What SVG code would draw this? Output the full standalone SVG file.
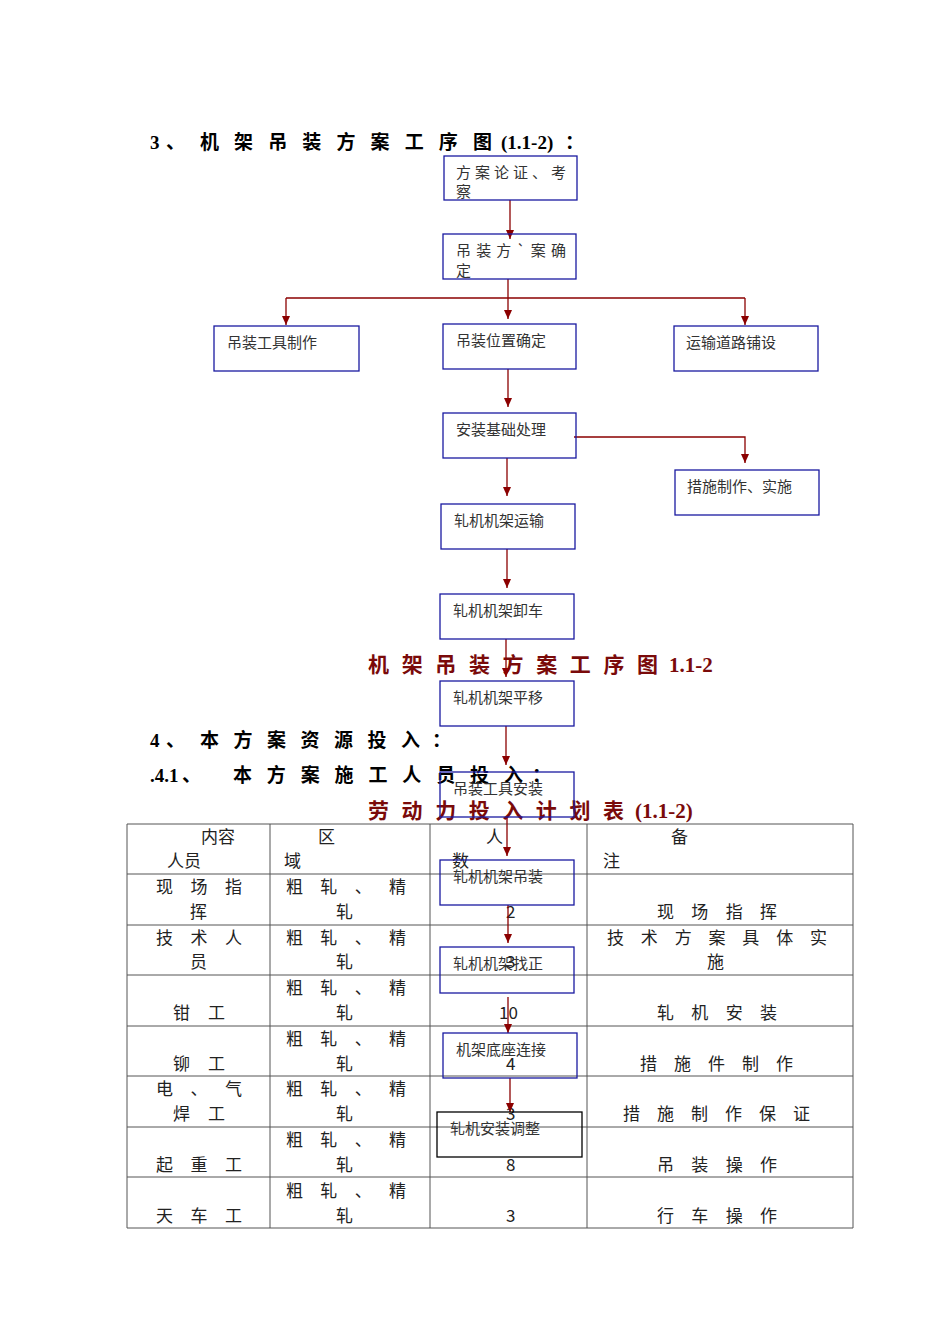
<svg xmlns="http://www.w3.org/2000/svg" width="950" height="1344" viewBox="0 0 950 1344">
<style>
.h{font-family:"Liberation Serif","Noto Sans CJK SC",serif;font-weight:bold;font-size:19px;fill:#000}
.r{font-family:"Liberation Serif","Noto Sans CJK SC",serif;font-weight:bold;font-size:21px;fill:#7a0a0a}
.n rect{fill:none;stroke:#1a1aa0;stroke-width:1.3}
.n text,.t{font-family:"Noto Sans CJK SC",sans-serif;font-size:15px;fill:#333}
.c text{font-family:"Noto Sans CJK SC",sans-serif;font-size:17px;fill:#222}
.g line{stroke:#555;stroke-width:1}
.e{stroke:#8b0000;stroke-width:1.3;fill:none}
</style>
<defs><marker id="a" markerWidth="10" markerHeight="10" refX="9" refY="4" orient="auto" markerUnits="userSpaceOnUse"><path d="M0,0 L9,4 L0,8z" fill="#8b0000"/></marker></defs>
<text class="h" x="150" y="149">3</text><text class="h" x="166" y="149">、</text>
<text class="h" x="200" y="149" textLength="292" lengthAdjust="spacing">机架吊装方案工序图</text>
<text class="h" x="501" y="149">(1.1-2)</text><text class="h" x="565" y="149">：</text>
<text class="h" x="150" y="747">4</text><text class="h" x="166" y="747">、</text>
<text class="h" x="200" y="747" textLength="220" lengthAdjust="spacing">本方案资源投入</text><text class="h" x="432" y="747">：</text>
<text class="h" x="150" y="782">.4.1</text><text class="h" x="182" y="782">、</text>
<text class="h" x="233" y="782" textLength="290" lengthAdjust="spacing">本方案施工人员投入</text><text class="h" x="532" y="782">：</text>
<text class="r" x="368" y="672" textLength="290" lengthAdjust="spacing">机架吊装方案工序图</text><text class="r" x="669" y="672">1.1-2</text>
<text class="r" x="368" y="818" textLength="256" lengthAdjust="spacing">劳动力投入计划表</text><text class="r" x="635" y="818" font-size="19">(1.1-2)</text>
<g class="g">
<line x1="127" y1="824" x2="853" y2="824"/><line x1="127" y1="874" x2="853" y2="874"/><line x1="127" y1="925" x2="853" y2="925"/><line x1="127" y1="975" x2="853" y2="975"/><line x1="127" y1="1026" x2="853" y2="1026"/><line x1="127" y1="1076" x2="853" y2="1076"/><line x1="127" y1="1127" x2="853" y2="1127"/><line x1="127" y1="1177" x2="853" y2="1177"/><line x1="127" y1="1228" x2="853" y2="1228"/>
<line x1="127" y1="824" x2="127" y2="1228"/><line x1="270" y1="824" x2="270" y2="1228"/><line x1="430" y1="824" x2="430" y2="1228"/><line x1="587" y1="824" x2="587" y2="1228"/><line x1="853" y1="824" x2="853" y2="1228"/>
</g>
<g class="c">
<text x="201" y="843" font-size="15">内容</text><text x="167" y="867" font-size="15">人员</text>
<text x="318" y="843">区</text><text x="284" y="867">域</text>
<text x="486" y="843">人</text><text x="452" y="867">数</text>
<text x="671" y="843">备</text><text x="603" y="867">注</text>
<text x="156" y="893" textLength="86" lengthAdjust="spacing">现场指</text><text x="190" y="918">挥</text>
<text x="156" y="944" textLength="86" lengthAdjust="spacing">技术人</text><text x="190" y="968">员</text>
<text x="173" y="1019" textLength="52" lengthAdjust="spacing">钳工</text>
<text x="173" y="1070" textLength="52" lengthAdjust="spacing">铆工</text>
<text x="156" y="1095" textLength="86" lengthAdjust="spacing">电、气</text><text x="173" y="1120" textLength="52" lengthAdjust="spacing">焊工</text>
<text x="156" y="1171" textLength="86" lengthAdjust="spacing">起重工</text>
<text x="156" y="1222" textLength="86" lengthAdjust="spacing">天车工</text>
<text x="286" y="893" textLength="120" lengthAdjust="spacing">粗轧、精</text><text x="336" y="918">轧</text>
<text x="286" y="944" textLength="120" lengthAdjust="spacing">粗轧、精</text><text x="336" y="968">轧</text>
<text x="286" y="994" textLength="120" lengthAdjust="spacing">粗轧、精</text><text x="336" y="1019">轧</text>
<text x="286" y="1045" textLength="120" lengthAdjust="spacing">粗轧、精</text><text x="336" y="1070">轧</text>
<text x="286" y="1095" textLength="120" lengthAdjust="spacing">粗轧、精</text><text x="336" y="1120">轧</text>
<text x="286" y="1146" textLength="120" lengthAdjust="spacing">粗轧、精</text><text x="336" y="1171">轧</text>
<text x="286" y="1197" textLength="120" lengthAdjust="spacing">粗轧、精</text><text x="336" y="1222">轧</text>
<text x="506" y="918">2</text><text x="506" y="968">3</text><text x="499" y="1019">10</text><text x="506" y="1070">4</text><text x="506" y="1120">3</text><text x="506" y="1171">8</text><text x="506" y="1222">3</text>
<text x="657" y="918" textLength="120" lengthAdjust="spacing">现场指挥</text>
<text x="607" y="944" textLength="220" lengthAdjust="spacing">技术方案具体实</text><text x="707" y="968">施</text>
<text x="657" y="1019" textLength="120" lengthAdjust="spacing">轧机安装</text>
<text x="640" y="1070" textLength="153" lengthAdjust="spacing">措施件制作</text>
<text x="623" y="1120" textLength="187" lengthAdjust="spacing">措施制作保证</text>
<text x="657" y="1171" textLength="120" lengthAdjust="spacing">吊装操作</text>
<text x="657" y="1222" textLength="120" lengthAdjust="spacing">行车操作</text>
</g>
<g id="edges">
<line class="e" x1="510" y1="200" x2="510" y2="239" marker-end="url(#a)"/>
<line class="e" x1="508" y1="279" x2="508" y2="319" marker-end="url(#a)"/>
<path class="e" d="M286,298 H745"/>
<line class="e" x1="286" y1="298" x2="286" y2="325" marker-end="url(#a)"/>
<line class="e" x1="745" y1="298" x2="745" y2="325" marker-end="url(#a)"/>
<line class="e" x1="508" y1="369" x2="508" y2="407" marker-end="url(#a)"/>
<line class="e" x1="507" y1="458" x2="507" y2="496" marker-end="url(#a)"/>
<path class="e" d="M574,437 H745 V463" marker-end="url(#a)"/>
<line class="e" x1="507" y1="549" x2="507" y2="588" marker-end="url(#a)"/>
<line class="e" x1="506" y1="639" x2="506" y2="677" marker-end="url(#a)"/>
<line class="e" x1="506" y1="726" x2="506" y2="765" marker-end="url(#a)"/>
<line class="e" x1="507" y1="817" x2="507" y2="856" marker-end="url(#a)"/>
<line class="e" x1="508" y1="905" x2="508" y2="943" marker-end="url(#a)"/>
<line class="e" x1="508" y1="997" x2="508" y2="1033" marker-end="url(#a)"/>
<line class="e" x1="510" y1="1078" x2="510" y2="1112" marker-end="url(#a)"/>
</g>
<g id="n1" class="n"><rect x="444" y="156" width="133" height="44"/><text x="456" y="178" textLength="110" lengthAdjust="spacing">方案论证、考</text><text x="456" y="197">察</text></g>
<g id="n2" class="n"><rect x="443" y="234" width="133" height="45"/><text x="456" y="256" textLength="110" lengthAdjust="spacing">吊装方`案确</text><text x="456" y="276">定</text></g>
<g id="n3" class="n"><rect x="214" y="326" width="145" height="45"/><text x="227" y="348">吊装工具制作</text></g>
<g id="n4" class="n"><rect x="443" y="324" width="133" height="45"/><text x="456" y="346">吊装位置确定</text></g>
<g id="n5" class="n"><rect x="674" y="326" width="144" height="45"/><text x="686" y="348">运输道路铺设</text></g>
<g id="n6" class="n"><rect x="443" y="413" width="133" height="45"/><text x="456" y="435">安装基础处理</text></g>
<g id="n7" class="n"><rect x="675" y="470" width="144" height="45"/><text x="687" y="492">措施制作、实施</text></g>
<g id="n8" class="n"><rect x="441" y="504" width="134" height="45"/><text x="454" y="526">轧机机架运输</text></g>
<g id="n9" class="n"><rect x="440" y="594" width="134" height="45"/><text x="453" y="616">轧机机架卸车</text></g>
<g id="n10" class="n"><rect x="440" y="681" width="134" height="45"/><text x="453" y="703">轧机机架平移</text></g>
<g id="n11" class="n"><rect x="440" y="772" width="134" height="45"/><text x="453" y="794">吊装工具安装</text></g>
<g id="n12" class="n"><rect x="440" y="860" width="134" height="45"/><text x="453" y="882">轧机机架吊装</text></g>
<g id="n13" class="n"><rect x="440" y="947" width="134" height="46"/><text x="453" y="969">轧机机架找正</text></g>
<g id="n14" class="n"><rect x="443" y="1033" width="134" height="45"/><text x="456" y="1055">机架底座连接</text></g>
<g id="n15" class="n"><rect x="437" y="1112" width="145" height="45" style="stroke:#000"/><text x="450" y="1134">轧机安装调整</text></g>
</svg>
